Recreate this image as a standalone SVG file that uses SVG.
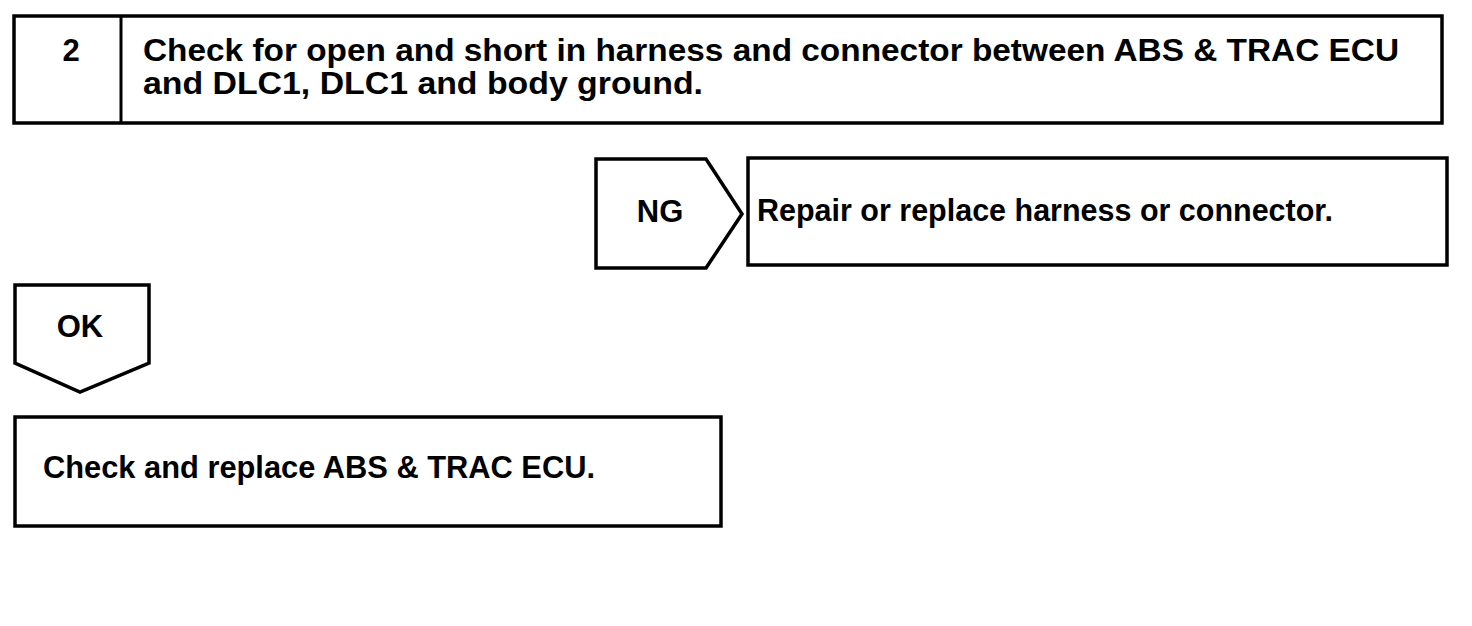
<svg xmlns="http://www.w3.org/2000/svg" width="1472" height="626" viewBox="0 0 1472 626">
<style>
.b{fill:#fff;stroke:#000;stroke-width:3.5;stroke-linejoin:miter}
.t{font-family:"Liberation Sans",Arial,sans-serif;font-weight:bold;font-size:31px;fill:#000}
.c{text-anchor:middle}
</style>
<rect width="1472" height="626" fill="#fff"/>
<g id="step2">
<rect class="b" x="14" y="16" width="1428" height="107"/>
<line x1="121" y1="16" x2="121" y2="123" stroke="#000" stroke-width="3"/>
<text class="t c" x="71" y="61">2</text>
<text class="t" x="143" y="61" textLength="1256" lengthAdjust="spacingAndGlyphs">Check for open and short in harness and connector between ABS &amp; TRAC ECU</text>
<text class="t" x="143" y="94" textLength="560" lengthAdjust="spacingAndGlyphs">and DLC1, DLC1 and body ground.</text>
</g>
<g id="ng">
<polygon class="b" points="596,159 706,159 742,214 706,268 596,268"/>
<text class="t c" x="660" y="222">NG</text>
</g>
<g id="repair">
<rect class="b" x="748" y="158" width="699" height="107"/>
<text class="t" x="757" y="221" textLength="576" lengthAdjust="spacingAndGlyphs">Repair or replace harness or connector.</text>
</g>
<g id="ok">
<polygon class="b" points="15,285 149,285 149,363 80,392 15,363"/>
<text class="t c" x="80" y="337">OK</text>
</g>
<g id="replace">
<rect class="b" x="15" y="417" width="706" height="109"/>
<text class="t" x="43" y="478" textLength="552" lengthAdjust="spacingAndGlyphs">Check and replace ABS &amp; TRAC ECU.</text>
</g>
<g id="connectors"></g>
</svg>
